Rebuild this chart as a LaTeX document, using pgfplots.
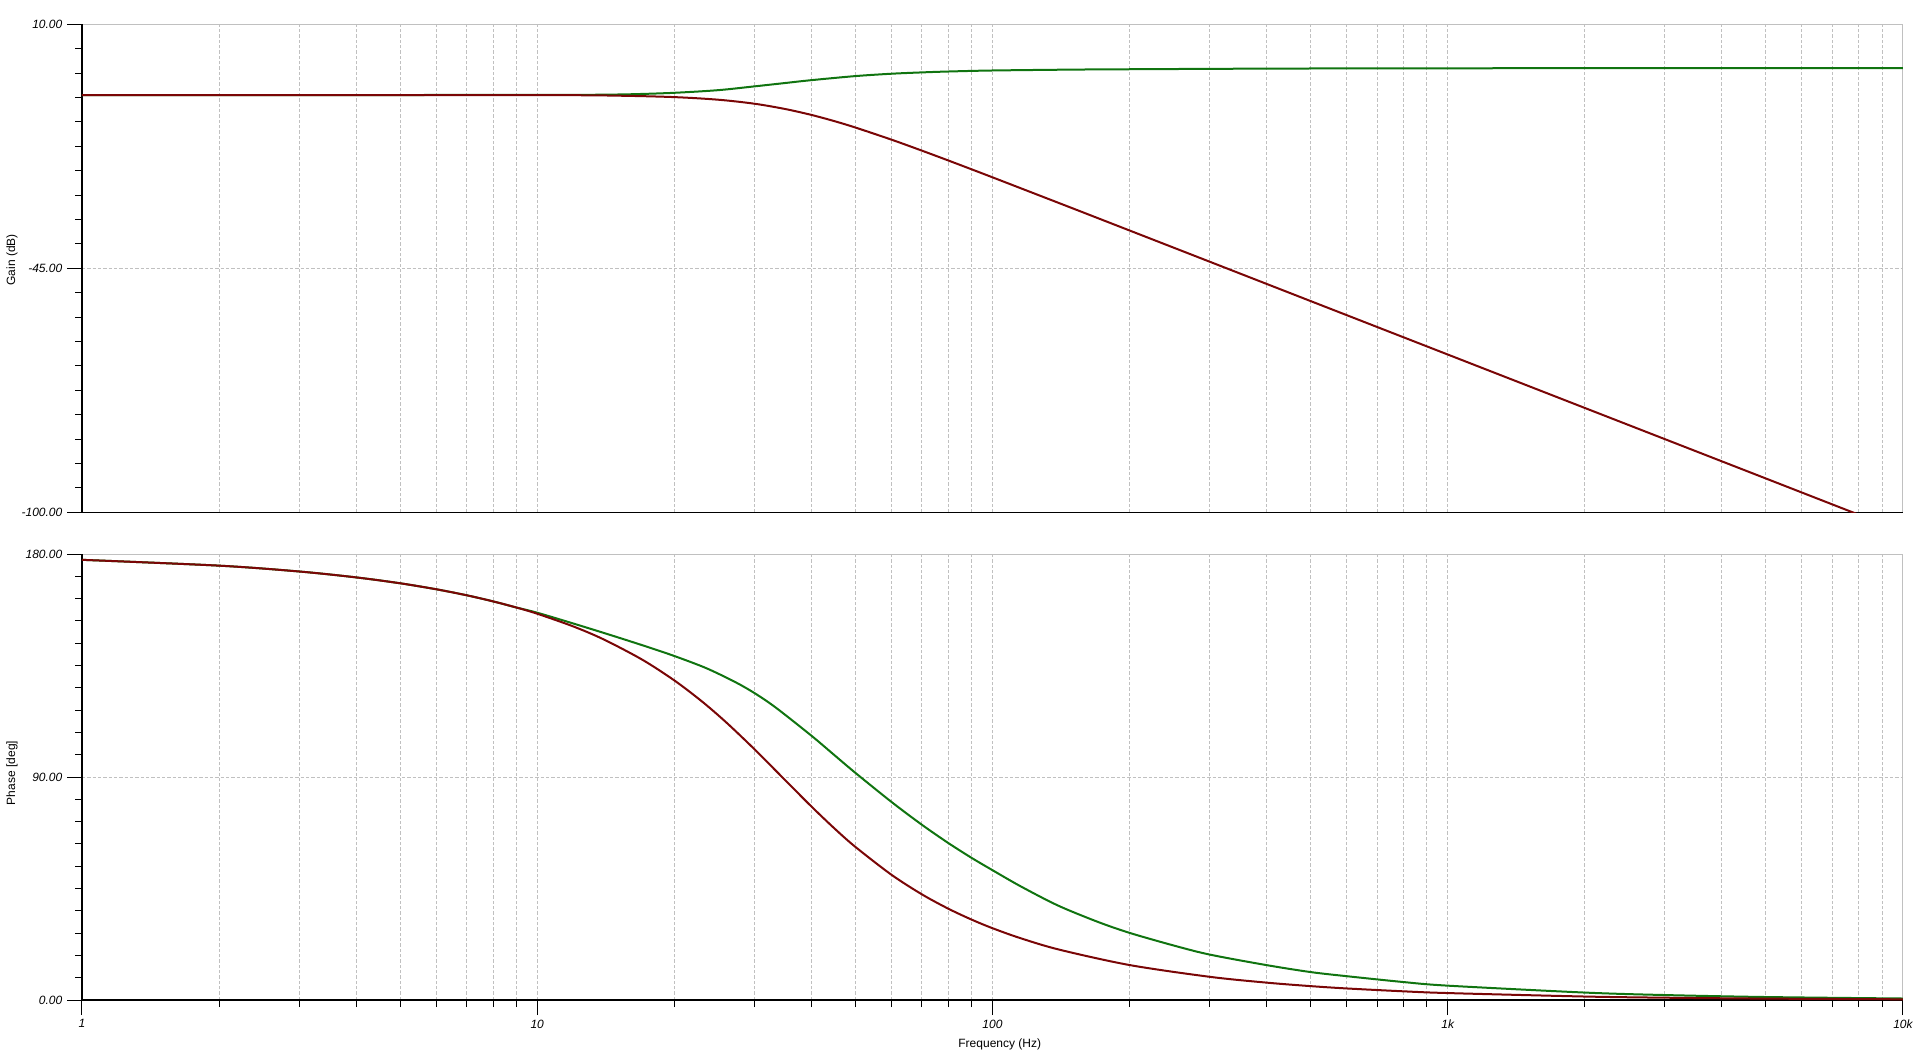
\documentclass[border=0pt]{standalone}
\usepackage{fontspec}
\setmainfont{Liberation Sans}
\usepackage{pgfplots}
\pgfplotsset{compat=1.18}
\definecolor{cred}{RGB}{122,6,6}
\definecolor{cgreen}{RGB}{16,116,16}
\definecolor{gridgray}{RGB}{192,192,192}
\begin{document}
\begin{tikzpicture}
\useasboundingbox (0pt,0pt) rectangle (1438.5pt,-796.5pt);
% Gain
\begin{axis}[
  xmode=log, scale only axis, width=1365.75pt, height=366pt,
  xmin=1, xmax=10000, enlargelimits=false,
  at={(61.5pt,-18.2pt)}, anchor=north west, clip mode=individual,
  xtick={1,10,100,1000,10000},
  minor xtick={2,3,4,5,6,7,8,9,20,30,40,50,60,70,80,90,200,300,400,500,600,700,800,900,2000,3000,4000,5000,6000,7000,8000,9000},
  xmajorgrids=true, xminorgrids=true, ymajorgrids=true, yminorgrids=false,
  major grid style={gridgray, line width=0.75pt, dash pattern=on 2.5pt off 1.5pt},
  minor grid style={gridgray, line width=0.75pt, dash pattern=on 2.5pt off 1.5pt},
  axis line style={draw=none},
  tick align=outside, tick pos=left,
  major tick length=11.25pt, minor tick length=5.25pt,
  tick style={black, line width=0.75pt},
  tick label style={font=\fontsize{9pt}{10pt}\selectfont\itshape},
  label style={font=\fontsize{9pt}{10pt}\selectfont},
  minor y tick num=9,
  ymin=-100, ymax=10, ytick={-100,-45,10},
  yticklabels={-100.00,-45.00,10.00},
  xticklabels={},
  major x tick style={draw=none}, minor x tick style={draw=none},
  ylabel={Gain (dB)},
  ylabel style={at={(axis description cs:-0.0384,0.517)}, anchor=center},
]
\draw[gridgray, line width=0.75pt] (rel axis cs:0,1) -- (rel axis cs:1,1) -- (rel axis cs:1,0);
\draw[black, line width=1pt] (rel axis cs:0,1) -- (rel axis cs:0,0) -- (rel axis cs:1,0);
\addplot[cgreen, line width=1.5pt, smooth, tension=0.5] coordinates {
(1,-5.95) (10,-5.94) (13,-5.90) (16,-5.78) (20,-5.45) (25,-4.85) (30,-4.0) (35,-3.25)
(40,-2.6) (50,-1.68) (60,-1.15) (70,-0.85) (80,-0.65) (100,-0.42) (150,-0.22)
(200,-0.14) (400,0.0) (1000,0.08) (10000,0.1)
};
\addplot[cred, line width=1.5pt, smooth, tension=0.5] coordinates {
(1,-5.95) (10,-5.98) (15,-6.10) (20,-6.42) (25,-7.01) (30,-7.91) (35,-9.09) (40,-10.43)
(45,-11.85) (50,-13.28) (60,-16.01) (70,-18.49) (80,-20.71) (90,-22.70) (100,-24.50)
(120,-27.64) (150,-31.49) (200,-36.48) (300,-43.52) (500,-52.4) (1000,-64.44)
(2000,-76.48) (5000,-92.39) (10000,-104.44)
};
\end{axis}
% Phase
\begin{axis}[
  xmode=log, scale only axis, width=1365.75pt, height=334.5pt,
  xmin=1, xmax=10000, enlargelimits=false,
  at={(61.5pt,-415.5pt)}, anchor=north west, clip mode=individual,
  xtick={1,10,100,1000,10000},
  minor xtick={2,3,4,5,6,7,8,9,20,30,40,50,60,70,80,90,200,300,400,500,600,700,800,900,2000,3000,4000,5000,6000,7000,8000,9000},
  xmajorgrids=true, xminorgrids=true, ymajorgrids=true, yminorgrids=false,
  major grid style={gridgray, line width=0.75pt, dash pattern=on 2.5pt off 1.5pt},
  minor grid style={gridgray, line width=0.75pt, dash pattern=on 2.5pt off 1.5pt},
  axis line style={draw=none},
  tick align=outside, tick pos=left,
  major tick length=11.25pt, minor tick length=5.25pt,
  tick style={black, line width=0.75pt},
  tick label style={font=\fontsize{9pt}{10pt}\selectfont\itshape},
  label style={font=\fontsize{9pt}{10pt}\selectfont},
  minor y tick num=9,
  ymin=0, ymax=180, ytick={0,90,180},
  yticklabels={0.00,90.00,180.00},
  xticklabels={1,10,100,1k,10k},
  ylabel={Phase [deg]},
  ylabel style={at={(axis description cs:-0.0384,0.509)}, anchor=center},
  xlabel={Frequency (Hz)},
  xlabel style={at={(axis description cs:0.504,-0.099)}, anchor=center},
]
\draw[gridgray, line width=0.75pt] (rel axis cs:0,1) -- (rel axis cs:1,1) -- (rel axis cs:1,0);
\draw[black, line width=1pt] (rel axis cs:0,1) -- (rel axis cs:0,0) -- (rel axis cs:1,0);
\addplot[cgreen, line width=1.5pt, smooth, tension=0.5] coordinates {
(1,177.65) (2,175.30) (3,172.94) (4,170.56) (5,168.18) (6,165.77) (7,163.34) (8,160.88)
(9,158.40) (10,156.3) (12.2,151.55) (14.6,147.10) (17.3,142.75) (20,138.84) (23.5,133.94)
(27.2,128.35) (30,123.88) (33.4,118.05) (40,106.70) (44.7,99.21) (50,91.66) (60,79.94)
(70,70.71) (80,63.34) (90,57.35) (100,52.40) (115,46.0) (139,38.2) (170,31.6) (200,27.1)
(250,22.0) (300,18.33) (400,14.08) (500,11.27) (600,9.61) (800,7.24) (1000,5.79) (2000,3.0)
(3000,2.0) (5000,1.2) (10000,0.6)
};
\addplot[cred, line width=1.5pt, smooth, tension=0.5] coordinates {
(1,177.65) (2,175.30) (3,172.94) (4,170.56) (5,168.18) (6,165.77) (7,163.34) (8,160.88)
(9,158.40) (10,155.89) (12,150.77) (14,145.51) (17,137.38) (20,129.00) (23,120.51)
(26,112.07) (30,101.22) (34.5,90.0) (40,78.14) (45,69.18) (50,61.77) (60,50.54)
(70,42.63) (80,36.84) (90,32.44) (100,28.98) (115,25.00) (140,20.35) (200,14.11)
(300,9.36) (400,7.01) (500,5.60) (600,4.66) (800,3.50) (1000,2.80) (2000,1.40)
(3000,0.93) (5000,0.56) (10000,0.28)
};
\end{axis}
\end{tikzpicture}
\end{document}
